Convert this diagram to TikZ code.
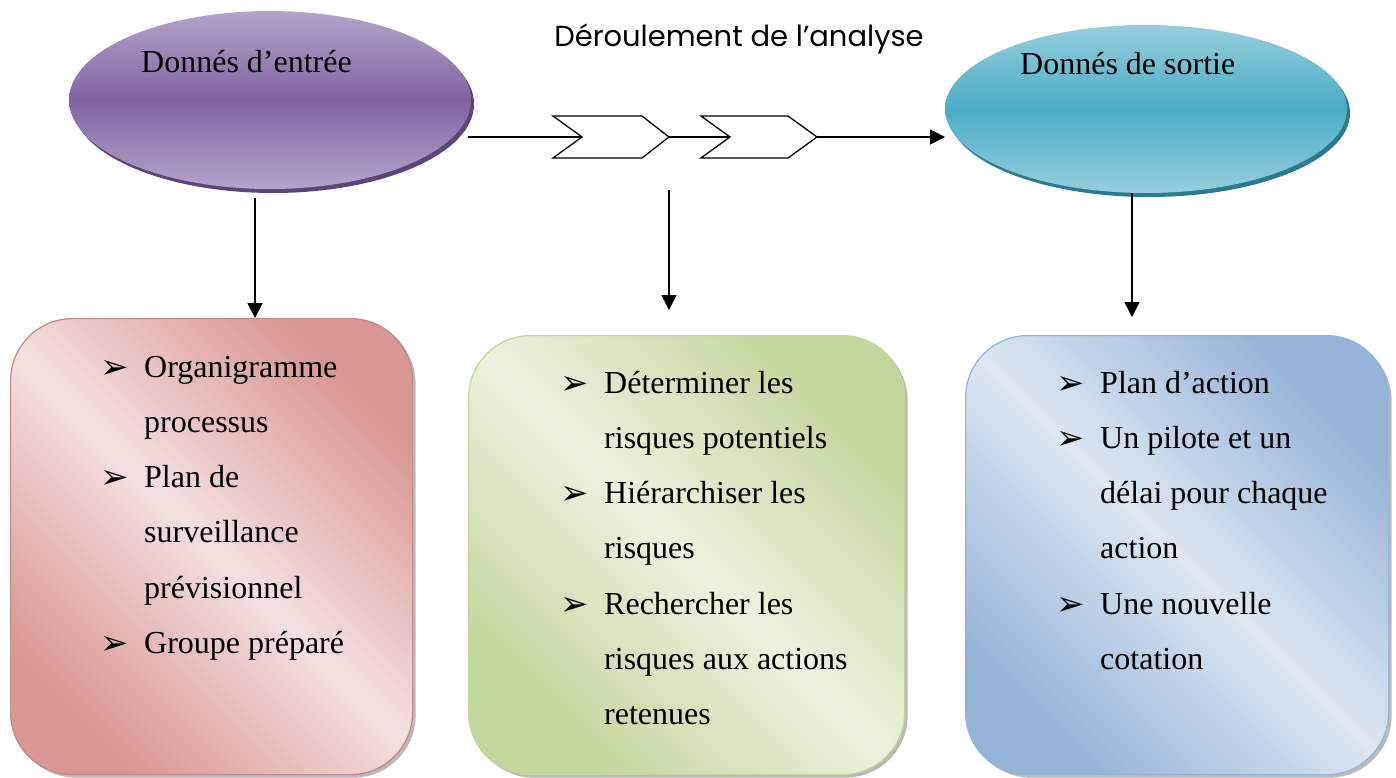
\documentclass[tikz,border=0pt]{standalone}
\usepackage{fontspec}
\setmainfont{Liberation Serif}
\newfontfamily\titlefont{Poppins}
\newfontfamily\dingfont{DejaVu Sans}
\usetikzlibrary{arrows.meta,shapes.geometric,shadows}

% colours of the three stages
\definecolor{purpleLight}{RGB}{180,164,202}
\definecolor{purpleMid}{RGB}{128,100,162}
\definecolor{purpleRim}{RGB}{92,70,120}
\definecolor{tealLight}{RGB}{150,206,222}
\definecolor{tealMid}{RGB}{75,172,198}
\definecolor{tealRim}{RGB}{42,122,146}
\definecolor{pinkDark}{RGB}{217,150,148}
\definecolor{pinkLight}{RGB}{244,224,224}
\definecolor{greenDark}{RGB}{195,214,155}
\definecolor{greenLight}{RGB}{236,242,224}
\definecolor{blueDark}{RGB}{149,179,215}
\definecolor{blueLight}{RGB}{222,231,242}

\newcommand\bul{\makebox[44pt][l]{\raisebox{-1pt}{\dingfont\fontsize{34}{34}\selectfont ➢}}}

\tikzset{
  oval/.style={ellipse, inner sep=0pt, minimum width=402pt},
  ovaltext/.style={font=\fontsize{32}{38}\selectfont, anchor=base west, inner sep=0pt},
  card/.style={rounded corners=62pt, line width=1.2pt, inner sep=0pt,
    drop shadow={shadow xshift=3pt, shadow yshift=-3pt, opacity=0.45, fill=black!60}},
  listtext/.style={font=\fontsize{32}{55.3}\selectfont, anchor=base west, inner sep=0pt},
  chevron/.style={draw=black, fill=white, line width=1.3pt, line join=miter},
  arr/.style={line width=1.6pt, -{Triangle[length=15pt,width=15pt]}},
  flow/.style={line width=1.6pt},
}

\begin{document}
\begin{tikzpicture}[x=1pt,y=-1pt]
\useasboundingbox (0,0) rectangle (1396,778);

% title
\node[font=\titlefont\fontsize{29}{34}\selectfont, anchor=base] (title) at (739,47) {Déroulement de l’analyse};

% input and output ovals with their rims
\fill[purpleRim] (273,104) ellipse [x radius=201, y radius=89];
\node[oval, minimum height=178pt, top color=purpleLight, bottom color=purpleLight, middle color=purpleMid] (inL) at (270,100) {};
\node[ovaltext] (inLtxt) at (141,73) {Donnés d’entrée};

\fill[tealRim] (1149,113) ellipse [x radius=201, y radius=84];
\node[oval, minimum height=168pt, top color=tealLight, bottom color=tealLight, middle color=tealMid] (outR) at (1146,109) {};
\node[ovaltext] (outRtxt) at (1020,75) {Donnés de sortie};

% two process chevrons
\coordinate (flowstart) at (468,137);
\draw[chevron] (553,116) coordinate (c1tl) -- (642,116) -- (669,137) coordinate (c1tip)
  -- (642,158) -- (553,158) -- (582,137) coordinate (c1notch) -- cycle;
\draw[chevron] (701,116) coordinate (c2tl) -- (788,116) -- (817,137) coordinate (c2tip)
  -- (788,158) -- (701,158) -- (730,137) coordinate (c2notch) -- cycle;
\coordinate (flowend) at (945,137);

\draw[flow] (flowstart) -- (c1notch);
\draw[flow] (c1tip) -- (c2notch);
\draw[arr] (c2tip) -- (flowend);

% content cards
\node[card, draw=pinkDark!90!black, top color=pinkDark, bottom color=pinkDark, middle color=pinkLight,
  shading angle=-45, minimum width=402pt, minimum height=456pt, anchor=north west] (boxL) at (10,318) {};
\node[card, draw=greenDark, top color=greenDark, bottom color=greenDark, middle color=greenLight,
  shading angle=-45, minimum width=436pt, minimum height=439pt, anchor=north west] (boxM) at (468,335) {};
\node[card, draw=blueDark, top color=blueDark, bottom color=blueDark, middle color=blueLight,
  shading angle=-45, minimum width=423pt, minimum height=439pt, anchor=north west] (boxR) at (965,335) {};

% vertical connectors
\coordinate (inLfoot) at (255,198);
\coordinate (midfoot) at (669,190);
\coordinate (outRfoot) at (1132,193);
\draw[arr] (inLfoot) -- (inLfoot |- boxL.north);
\draw[arr] (midfoot) -- ([yshift=25pt]midfoot |- boxM.north);
\draw[arr] (outRfoot) -- ([yshift=18pt]outRfoot |- boxR.north);

% card contents
\node[listtext] (tL) at (100,377) {\begin{tabular}[t]{@{}l@{}l@{}}
  \bul & Organigramme\\
       & processus\\
  \bul & Plan de\\
       & surveillance\\
       & prévisionnel\\
  \bul & Groupe préparé
\end{tabular}};

\node[listtext] (tM) at (560,393) {\begin{tabular}[t]{@{}l@{}l@{}}
  \bul & Déterminer les\\
       & risques potentiels\\
  \bul & Hiérarchiser les\\
       & risques\\
  \bul & Rechercher les\\
       & risques aux actions\\
       & retenues
\end{tabular}};

\node[listtext] (tR) at (1056,393) {\begin{tabular}[t]{@{}l@{}l@{}}
  \bul & Plan d’action\\
  \bul & Un pilote et un\\
       & délai pour chaque\\
       & action\\
  \bul & Une nouvelle\\
       & cotation
\end{tabular}};
\end{tikzpicture}
\end{document}
